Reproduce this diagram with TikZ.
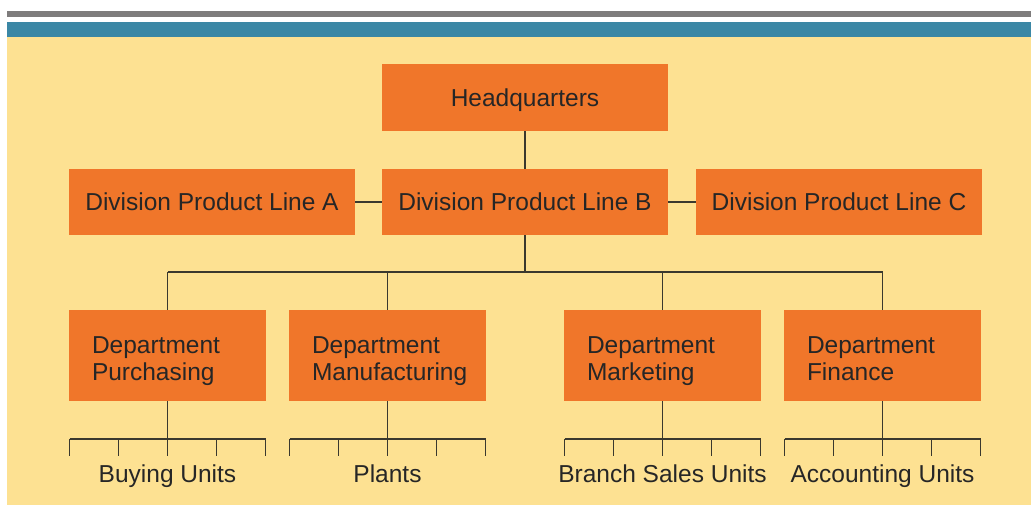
\documentclass[tikz,border=0pt]{standalone}
\usepackage{fontspec}
\setmainfont{Liberation Sans}
\definecolor{bgy}{HTML}{FDE192}
\definecolor{org}{HTML}{F0762A}
\definecolor{barb}{HTML}{3B87A5}
\definecolor{barg}{HTML}{7E7C7C}
\definecolor{ln}{HTML}{3A382E}
\begin{document}
\begin{tikzpicture}[x=1pt,y=-1pt,
  box/.style={fill=org,draw=none,inner sep=0pt,font=\fontsize{24.5}{27}\selectfont,text=black!85,text height=18pt,text depth=0pt},
  wire/.style={draw=ln,line width=1.7pt},
  lbl/.style={font=\fontsize{24.5}{27}\selectfont,text=black!85,inner sep=0pt}]
\useasboundingbox (0,0) rectangle (1031,505);
\fill[white] (0,0) rectangle (1031,505);
\fill[barg] (7,11) rectangle (1031,17);
\fill[barb] (7,22) rectangle (1031,37);
\fill[bgy] (7,37) rectangle (1031,505);
% top level
\node[box,minimum width=286pt,minimum height=67pt] (hq) at (525,97.5) {Headquarters};
\node[box,minimum width=286pt,minimum height=66pt] (da) at (212,202) {Division Product Line A};
\node[box,minimum width=286pt,minimum height=66pt] (db) at (525,202) {Division Product Line B};
\node[box,minimum width=286pt,minimum height=66pt] (dc) at (839,202) {Division Product Line C};
\draw[wire] (hq.south) -- (db.north);
\draw[wire] (da.east) -- (db.west);
\draw[wire] (db.east) -- (dc.west);
% departments
\node[box,minimum width=197pt,minimum height=91pt] (p) at (167.5,355.5) {};
\node[box,minimum width=197pt,minimum height=91pt] (m) at (387.5,355.5) {};
\node[box,minimum width=197pt,minimum height=91pt] (k) at (662.5,355.5) {};
\node[box,minimum width=197pt,minimum height=91pt] (f) at (882.5,355.5) {};
\foreach \n/\t in {p/Purchasing,m/Manufacturing,k/Marketing,f/Finance}{
  \node[lbl,anchor=base west] at ([xshift=23pt,yshift=-44pt]\n.north west) {Department};
  \node[lbl,anchor=base west] at ([xshift=23pt,yshift=-71pt]\n.north west) {\t};
}
\coordinate (bus) at (525,272);
\draw[wire] (db.south) -- (bus);
\draw[wire] (p.north |- bus) -- (f.north |- bus);
\foreach \n in {p,m,k,f}{ \draw[wire] (\n.north |- bus) -- (\n.north); }
% combs
\foreach \n/\t in {p/Buying Units,m/Plants,k/Branch Sales Units,f/Accounting Units}{
  \coordinate (c\n) at ([yshift=-38pt]\n.south);
  \draw[wire] (\n.south) -- (c\n);
  \draw[wire] ([xshift=-98pt]c\n) -- ([xshift=98pt]c\n);
  \foreach \d in {-98,-49,0,49,98}{ \draw[wire] ([xshift=\d pt]c\n) -- ([xshift=\d pt,yshift=-17pt]c\n); }
  \node[lbl,anchor=base] at ([yshift=-43pt]c\n) {\t};
}
\end{tikzpicture}
\end{document}
